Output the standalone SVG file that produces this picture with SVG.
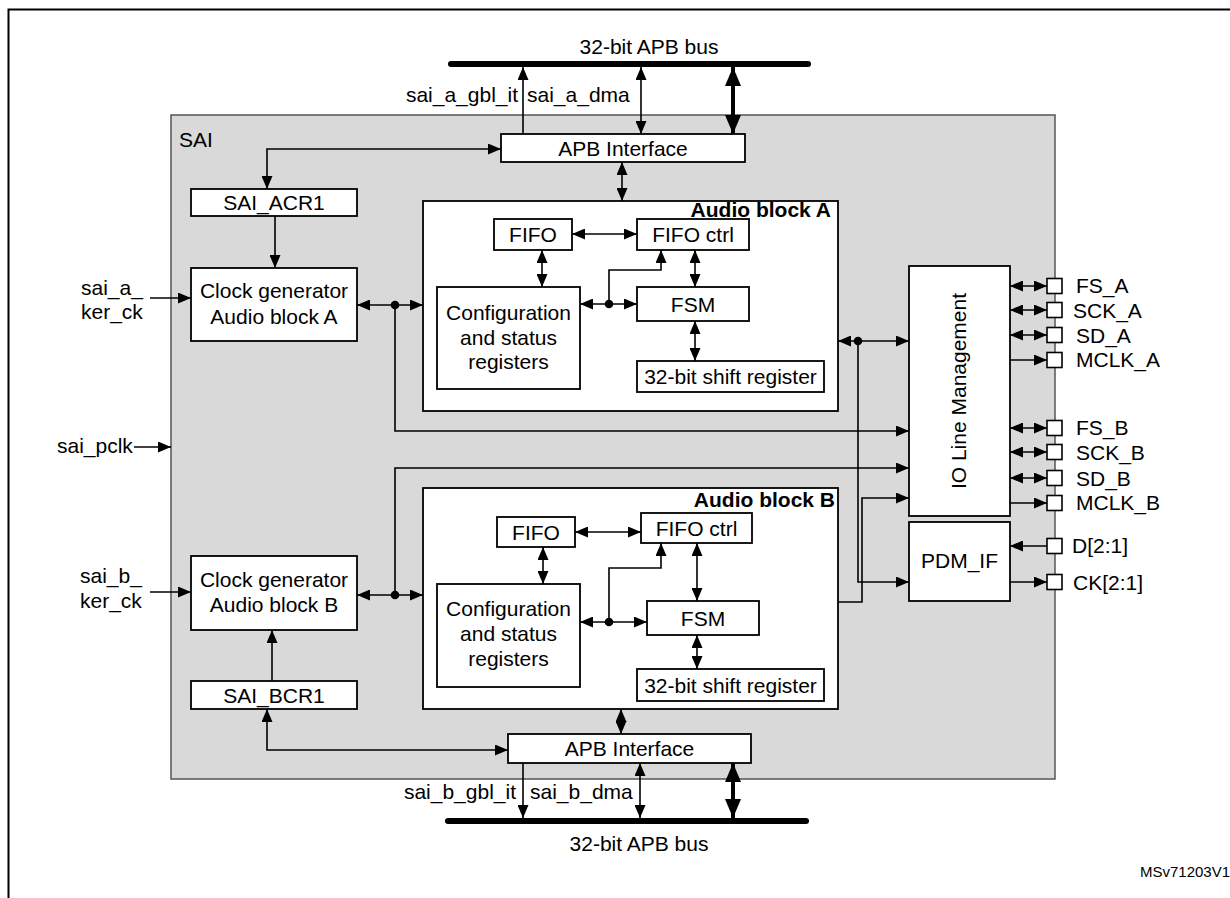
<svg xmlns="http://www.w3.org/2000/svg" width="1230" height="898" viewBox="0 0 1230 898">
<style>
.t{font-family:"Liberation Sans",Arial,sans-serif;font-size:21px;fill:#000}
.m{text-anchor:middle}
.e{text-anchor:end}
.b{font-weight:bold}
.box{fill:#fff;stroke:#000;stroke-width:1.8}
.c{fill:none;stroke:#000;stroke-width:1.6}
.ck{fill:none;stroke:#000;stroke-width:4}
.bus{stroke:#000;stroke-width:6;stroke-linecap:round}
.pin{fill:#fff;stroke:#000;stroke-width:1.6}
</style>
<defs>
<marker id="a" viewBox="0 0 13 11" markerWidth="13" markerHeight="11" refX="13" refY="5.5" orient="auto-start-reverse" markerUnits="userSpaceOnUse"><path d="M0,0 L13,5.5 L0,11 z" fill="#000"/></marker>
<marker id="A" viewBox="0 0 19 16" markerWidth="19" markerHeight="16" refX="19" refY="8" orient="auto-start-reverse" markerUnits="userSpaceOnUse"><path d="M0,0 L19,8 L0,16 z" fill="#000"/></marker>
</defs>
<rect width="1230" height="898" fill="#fff"/>
<rect x="8.5" y="9.5" width="1300" height="1000" fill="none" stroke="#000" stroke-width="2"/>

<g id="sai">
<rect x="171" y="115" width="884" height="664" fill="#d9d9d9" stroke="#555" stroke-width="1.5"/>
<text class="t" x="179" y="147">SAI</text>
</g>

<g id="bus-top">
<line class="bus" x1="451" y1="64" x2="808" y2="64"/>
<text class="t m" x="649" y="54">32-bit APB bus</text>
</g>
<g id="bus-bottom">
<line class="bus" x1="448" y1="821" x2="806" y2="821"/>
<text class="t m" x="639" y="851">32-bit APB bus</text>
</g>

<g id="apb-a"><rect class="box" x="501" y="134" width="244" height="28"/><text class="t m" x="623" y="155.5">APB Interface</text></g>
<g id="apb-b"><rect class="box" x="508" y="734" width="243" height="29"/><text class="t m" x="629.5" y="756">APB Interface</text></g>

<g id="acr1"><rect class="box" x="191" y="189" width="166" height="27"/><text class="t m" x="274" y="210">SAI_ACR1</text></g>
<g id="bcr1"><rect class="box" x="191" y="681" width="166" height="28"/><text class="t m" x="274" y="702.5">SAI_BCR1</text></g>

<g id="clk-a"><rect class="box" x="191" y="268" width="166" height="73"/><text class="t m" x="274" y="298">Clock generator</text><text class="t m" x="274" y="324">Audio block A</text></g>
<g id="clk-b"><rect class="box" x="191" y="556" width="166" height="74"/><text class="t m" x="274" y="587">Clock generator</text><text class="t m" x="274" y="612">Audio block B</text></g>

<g id="audio-a">
<rect class="box" x="423" y="201" width="415" height="210"/>
<text class="t e b" x="831" y="217">Audio block A</text>
</g>
<g id="fifo-a"><rect class="box" x="494" y="219" width="78" height="31"/><text class="t m" x="533" y="242">FIFO</text></g>
<g id="fifoctrl-a"><rect class="box" x="637" y="219" width="112" height="31"/><text class="t m" x="693" y="242">FIFO ctrl</text></g>
<g id="config-a"><rect class="box" x="437" y="287" width="143" height="102"/><text class="t m" x="508.5" y="320">Configuration</text><text class="t m" x="508.5" y="344.5">and status</text><text class="t m" x="508.5" y="369">registers</text></g>
<g id="fsm-a"><rect class="box" x="637" y="287" width="112" height="34"/><text class="t m" x="693" y="311.5">FSM</text></g>
<g id="shift-a"><rect class="box" x="637" y="361" width="187" height="31"/><text class="t m" x="730.5" y="384">32-bit shift register</text></g>

<g id="audio-b">
<rect class="box" x="423" y="488" width="415" height="221"/>
<text class="t e b" x="835" y="507">Audio block B</text>
</g>
<g id="fifo-b"><rect class="box" x="497" y="517" width="78" height="30"/><text class="t m" x="536" y="539.5">FIFO</text></g>
<g id="fifoctrl-b"><rect class="box" x="641" y="513" width="111" height="30"/><text class="t m" x="696.5" y="535.5">FIFO ctrl</text></g>
<g id="config-b"><rect class="box" x="437" y="584" width="143" height="103"/><text class="t m" x="508.5" y="616">Configuration</text><text class="t m" x="508.5" y="641">and status</text><text class="t m" x="508.5" y="666">registers</text></g>
<g id="fsm-b"><rect class="box" x="647" y="601" width="112" height="34"/><text class="t m" x="703" y="625.5">FSM</text></g>
<g id="shift-b"><rect class="box" x="637" y="669" width="187" height="32"/><text class="t m" x="730.5" y="692.5">32-bit shift register</text></g>

<g id="io"><rect class="box" x="909" y="266" width="101" height="250"/><text class="t m" transform="translate(966,391) rotate(-90)">IO Line Management</text></g>
<g id="pdm"><rect class="box" x="909" y="522" width="101" height="79"/><text class="t m" x="959.5" y="568">PDM_IF</text></g>

<g id="connectors">
<path class="c" d="M523,134 V67" marker-end="url(#a)"/>
<path class="c" d="M641,67 V134" marker-start="url(#a)" marker-end="url(#a)"/>
<path class="ck" d="M733,67 V134" marker-start="url(#A)" marker-end="url(#A)"/>
<path class="c" d="M267,189 V149 H501" marker-start="url(#a)" marker-end="url(#a)"/>
<path class="c" d="M622,162 V201" marker-start="url(#a)" marker-end="url(#a)"/>
<path class="c" d="M275,216 V268" marker-end="url(#a)"/>
<path class="c" d="M150,298 H191" marker-end="url(#a)"/>
<path class="c" d="M357,305 H423" marker-start="url(#a)" marker-end="url(#a)"/>
<path class="c" d="M395,305 V431 H909" marker-end="url(#a)"/>
<path class="c" d="M134,447 H171" marker-end="url(#a)"/>
<path class="c" d="M150,592 H191" marker-end="url(#a)"/>
<path class="c" d="M357,595 H423" marker-start="url(#a)" marker-end="url(#a)"/>
<path class="c" d="M395,595 V468 H909" marker-end="url(#a)"/>
<path class="c" d="M272,681 V630" marker-end="url(#a)"/>
<path class="c" d="M267,709 V750 H508" marker-start="url(#a)" marker-end="url(#a)"/>
<path class="c" d="M621,709 V734" marker-start="url(#a)" marker-end="url(#a)"/>
<path class="c" d="M523,763 V818" marker-end="url(#a)"/>
<path class="c" d="M640,763 V818" marker-start="url(#a)" marker-end="url(#a)"/>
<path class="ck" d="M733,763 V818" marker-start="url(#A)" marker-end="url(#A)"/>
<path class="c" d="M838,341 H909" marker-start="url(#a)" marker-end="url(#a)"/>
<path class="c" d="M858,341 V582 H909" marker-end="url(#a)"/>
<path class="c" d="M838,602 H862 V498 H909" marker-end="url(#a)"/>
<path class="c" d="M572,234 H637" marker-start="url(#a)" marker-end="url(#a)"/>
<path class="c" d="M542,250 V287" marker-start="url(#a)" marker-end="url(#a)"/>
<path class="c" d="M580,304 H637" marker-start="url(#a)" marker-end="url(#a)"/>
<path class="c" d="M609,304 V270 H661 V250" marker-end="url(#a)"/>
<path class="c" d="M695,250 V287" marker-start="url(#a)" marker-end="url(#a)"/>
<path class="c" d="M695,321 V361" marker-start="url(#a)" marker-end="url(#a)"/>
<path class="c" d="M575,532 H641" marker-start="url(#a)" marker-end="url(#a)"/>
<path class="c" d="M543,547 V584" marker-start="url(#a)" marker-end="url(#a)"/>
<path class="c" d="M580,622 H647" marker-start="url(#a)" marker-end="url(#a)"/>
<path class="c" d="M609,622 V568 H661 V543" marker-end="url(#a)"/>
<path class="c" d="M697,543 V601" marker-start="url(#a)" marker-end="url(#a)"/>
<path class="c" d="M697,635 V669" marker-start="url(#a)" marker-end="url(#a)"/>
<path class="c" d="M1010,286 H1047" marker-start="url(#a)" marker-end="url(#a)"/>
<path class="c" d="M1010,310 H1047" marker-start="url(#a)" marker-end="url(#a)"/>
<path class="c" d="M1010,335 H1047" marker-start="url(#a)" marker-end="url(#a)"/>
<path class="c" d="M1010,360 H1047" marker-end="url(#a)"/>
<path class="c" d="M1010,428 H1047" marker-start="url(#a)" marker-end="url(#a)"/>
<path class="c" d="M1010,452 H1047" marker-start="url(#a)" marker-end="url(#a)"/>
<path class="c" d="M1010,478 H1047" marker-start="url(#a)" marker-end="url(#a)"/>
<path class="c" d="M1010,503 H1047" marker-end="url(#a)"/>
<path class="c" d="M1047,546 H1010" marker-end="url(#a)"/>
<path class="c" d="M1010,582 H1047" marker-end="url(#a)"/>
<circle cx="395" cy="305" r="4.3"/>
<circle cx="395" cy="595" r="4.3"/>
<circle cx="858" cy="341" r="4.3"/>
<circle cx="609" cy="304" r="4.3"/>
<circle cx="609" cy="622" r="4.3"/>
</g>

<g id="signals">
<text class="t e" x="518" y="102">sai_a_gbl_it</text>
<text class="t" x="527" y="102">sai_a_dma</text>
<text class="t e" x="516" y="799">sai_b_gbl_it</text>
<text class="t" x="530" y="799">sai_b_dma</text>
<text class="t" x="81" y="295">sai_a_</text>
<text class="t" x="81" y="319">ker_ck</text>
<text class="t" x="80" y="583">sai_b_</text>
<text class="t" x="80" y="608">ker_ck</text>
<text class="t" x="57" y="453">sai_pclk</text>
</g>

<g id="pins">
<rect class="pin" x="1047" y="278.5" width="15" height="15"/>
<rect class="pin" x="1047" y="302.5" width="15" height="15"/>
<rect class="pin" x="1047" y="327.5" width="15" height="15"/>
<rect class="pin" x="1047" y="352.5" width="15" height="15"/>
<rect class="pin" x="1047" y="420.5" width="15" height="15"/>
<rect class="pin" x="1047" y="444.5" width="15" height="15"/>
<rect class="pin" x="1047" y="470.5" width="15" height="15"/>
<rect class="pin" x="1047" y="495.5" width="15" height="15"/>
<rect class="pin" x="1047" y="538.5" width="15" height="15"/>
<rect class="pin" x="1047" y="574.5" width="15" height="15"/>
<text class="t" x="1076" y="293">FS_A</text>
<text class="t" x="1073" y="318">SCK_A</text>
<text class="t" x="1076" y="343">SD_A</text>
<text class="t" x="1076" y="367">MCLK_A</text>
<text class="t" x="1076" y="435">FS_B</text>
<text class="t" x="1076" y="460">SCK_B</text>
<text class="t" x="1076" y="486">SD_B</text>
<text class="t" x="1076" y="510">MCLK_B</text>
<text class="t" x="1072" y="553">D[2:1]</text>
<text class="t" x="1073" y="590">CK[2:1]</text>
</g>

<text class="t" style="font-size:15px" x="1140" y="877">MSv71203V1</text>
</svg>
